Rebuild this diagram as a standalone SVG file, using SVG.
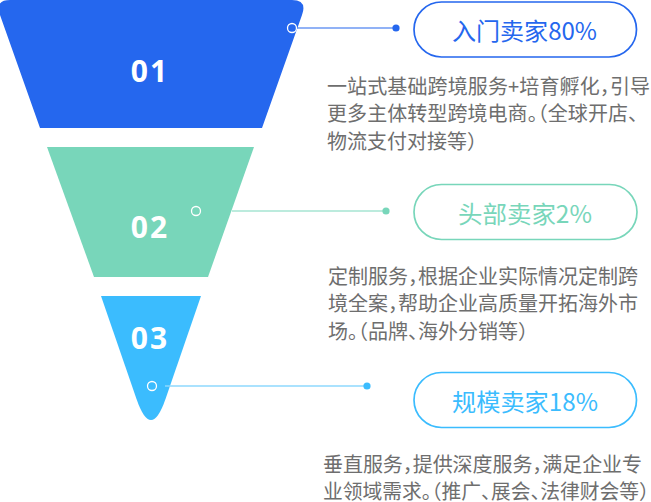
<svg xmlns="http://www.w3.org/2000/svg" width="651" height="502" viewBox="0 0 651 502">
<style>
.num{font-family:"Noto Sans","DejaVu Sans",sans-serif;font-weight:700;font-size:30px;fill:#fff;text-anchor:middle;letter-spacing:2px}
.pill{fill:#fff;stroke-width:1.7}
.lbl{font-family:"Noto Sans CJK SC","Noto Sans",sans-serif;font-size:24px}
.desc{font-family:"Noto Sans CJK SC","Noto Sans",sans-serif;font-size:20px;fill:#6e6e6e;font-feature-settings:"halt" 1}
.ring{fill:none;stroke:#fff;stroke-width:1.3}
</style>
<g id="funnel-01">
<path d="M10,0 H292 Q307.5,0 302,15 L262,128 H40 L0,15 Q-5.5,0 10,0 Z" fill="#2567EE"/>
<text class="num" x="150" y="82">01</text>
</g>
<g id="funnel-02">
<path d="M47,147 H254 L208,277 H94 Z" fill="#78D6BA"/>
<text class="num" x="150" y="238">02</text>
</g>
<g id="funnel-03">
<path d="M101,296 H201 L165.5,399 Q151,441 136.5,399 Z" fill="#3BBCFE"/>
<text class="num" x="150" y="349">03</text>
</g>
<g id="connectors">
<line x1="296" y1="28" x2="396" y2="28" stroke="#2567EE" stroke-width="1.2"/>
<circle cx="396" cy="28" r="3.6" fill="#2567EE"/>
<circle class="ring" cx="292" cy="28" r="4.5"/>
<line x1="232" y1="211" x2="386" y2="211" stroke="#A6E4D2" stroke-width="1.4"/>
<circle cx="386" cy="211" r="3.6" fill="#78D6BA"/>
<circle class="ring" cx="196" cy="211" r="4.5"/>
<line x1="165" y1="386" x2="367" y2="386" stroke="#8ED8FE" stroke-width="1.4"/>
<circle cx="367" cy="386" r="3.6" fill="#3BBCFE"/>
<circle class="ring" cx="152" cy="386" r="4.5"/>
</g>
<g id="pill-01">
<rect class="pill" x="414" y="2" width="222.5" height="55" rx="27.5" stroke="#2567EE"/>
<text class="lbl" x="452" y="40" fill="#2567EE" textLength="145" lengthAdjust="spacingAndGlyphs">入门卖家80%</text>
</g>
<g id="desc-01">
<text class="desc" x="327" y="93.5" textLength="323">一站式基础跨境服务+培育孵化，引导</text>
<text class="desc" x="327" y="121" textLength="311">更多主体转型跨境电商。（全球开店、</text>
<text class="desc" x="327" y="148.5">物流支付对接等）</text>
</g>
<g id="pill-02">
<rect class="pill" x="414" y="184.5" width="223" height="55" rx="27.5" stroke="#78D6BA"/>
<text class="lbl" x="458" y="223" fill="#78D6BA" textLength="134" lengthAdjust="spacingAndGlyphs">头部卖家2%</text>
</g>
<g id="desc-02">
<text class="desc" x="328" y="283.5" textLength="310">定制服务，根据企业实际情况定制跨</text>
<text class="desc" x="328" y="311" textLength="310">境全案，帮助企业高质量开拓海外市</text>
<text class="desc" x="328" y="338.5">场。（品牌、海外分销等）</text>
</g>
<g id="pill-03">
<rect class="pill" x="414" y="372.5" width="222.5" height="55" rx="27.5" stroke="#3BBCFE"/>
<text class="lbl" x="452" y="411" fill="#3BBCFE" textLength="146" lengthAdjust="spacingAndGlyphs">规模卖家18%</text>
</g>
<g id="desc-03">
<text class="desc" x="323" y="471.5" textLength="319">垂直服务，提供深度服务，满足企业专</text>
<text class="desc" x="323" y="498.5" textLength="326" lengthAdjust="spacingAndGlyphs">业领域需求。（推广、展会、法律财会等）</text>
</g>
</svg>
